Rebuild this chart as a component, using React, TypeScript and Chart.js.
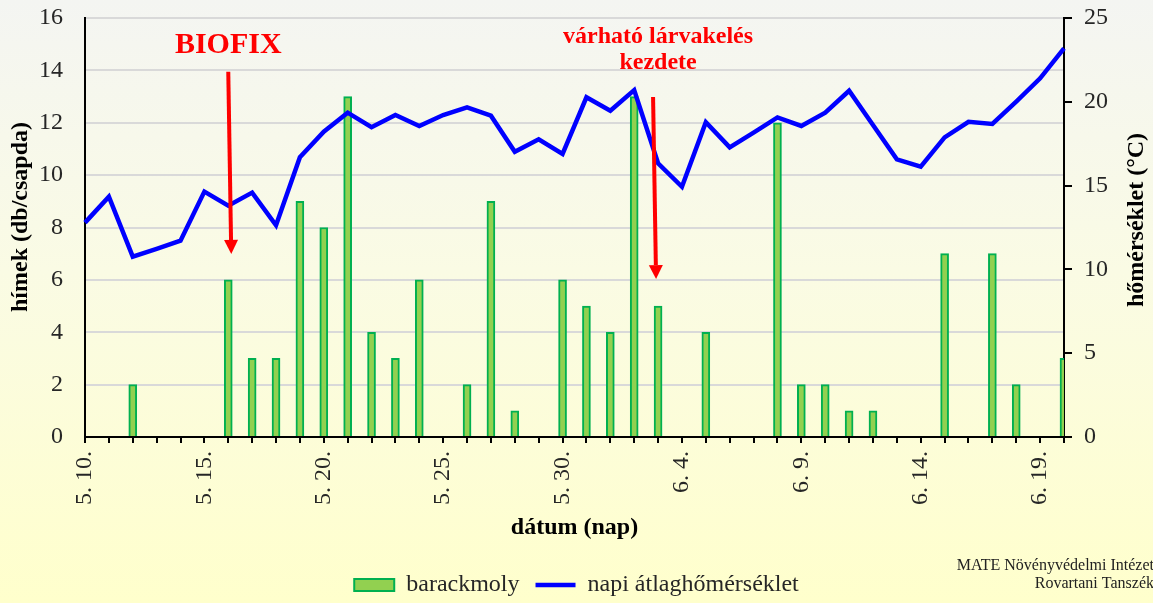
import React, { useEffect, useRef } from 'react';
import { Chart, registerables } from 'chart.js';

Chart.register(...registerables);

const dates = [
  '5. 10.', '5. 11.', '5. 12.', '5. 13.', '5. 14.', '5. 15.', '5. 16.', '5. 17.', '5. 18.', '5. 19.',
  '5. 20.', '5. 21.', '5. 22.', '5. 23.', '5. 24.', '5. 25.', '5. 26.', '5. 27.', '5. 28.', '5. 29.',
  '5. 30.', '5. 31.', '6. 1.', '6. 2.', '6. 3.', '6. 4.', '6. 5.', '6. 6.', '6. 7.', '6. 8.',
  '6. 9.', '6. 10.', '6. 11.', '6. 12.', '6. 13.', '6. 14.', '6. 15.', '6. 16.', '6. 17.', '6. 18.',
  '6. 19.', '6. 20.',
];

const barackmoly = [
  0, 0, 2, 0, 0, 0, 6, 3, 3, 9,
  8, 13, 4, 3, 6, 0, 2, 9, 1, 0,
  6, 5, 4, 13, 5, 0, 4, 0, 0, 12,
  2, 2, 1, 1, 0, 0, 7, 0, 7, 2,
  0, 3,
];

const temperature = [
  12.79, 14.34, 10.76, 11.22, 11.71, 14.64, 13.8, 14.58, 12.63, 16.69,
  18.22, 19.35, 18.48, 19.21, 18.56, 19.21, 19.67, 19.17, 17.02, 17.76,
  16.89, 20.27, 19.47, 20.7, 16.33, 14.93, 18.78, 17.28, 18.16, 19.07,
  18.56, 19.35, 20.66, 18.62, 16.57, 16.13, 17.88, 18.81, 18.68, 20.01,
  21.4, 23.19,
];

const leftAxis = { min: 0, max: 16, step: 2 };
const rightAxis = { min: 0, max: 25, step: 5 };
const labelEvery = 5;

const SERIF = '"Liberation Serif", "Times New Roman", Times, serif';

export default function App() {
  const ref = useRef<HTMLCanvasElement | null>(null);

  useEffect(() => {
    if (!ref.current) return;

    const annotations = {
      id: 'annotations',
      afterDraw(chart: any) {
        const { ctx } = chart;
        const x = chart.scales.x;
        const y = chart.scales.y;

        const arrow = (x1: number, y1: number, x2: number, y2: number) => {
          const ang = Math.atan2(y2 - y1, x2 - x1);
          const head = 14;
          const half = 7;
          const bx = x2 - head * Math.cos(ang);
          const by = y2 - head * Math.sin(ang);
          ctx.save();
          ctx.strokeStyle = '#FF0000';
          ctx.fillStyle = '#FF0000';
          ctx.lineWidth = 4;
          ctx.beginPath();
          ctx.moveTo(x1, y1);
          ctx.lineTo(bx, by);
          ctx.stroke();
          ctx.beginPath();
          ctx.moveTo(x2, y2);
          ctx.lineTo(bx + half * Math.sin(ang), by - half * Math.cos(ang));
          ctx.lineTo(bx - half * Math.sin(ang), by + half * Math.cos(ang));
          ctx.closePath();
          ctx.fill();
          ctx.restore();
        };

        // BIOFIX
        const bx = x.getPixelForValue(6);
        arrow(bx, y.getPixelForValue(13.95), bx + 3, y.getPixelForValue(6.99));
        ctx.save();
        ctx.fillStyle = '#FF0000';
        ctx.textAlign = 'center';
        ctx.textBaseline = 'alphabetic';
        ctx.font = `bold 30px ${SERIF}`;
        ctx.fillText('BIOFIX', bx, 53);
        ctx.restore();

        // várható lárvakelés kezdete
        const lx = x.getPixelForValue(24);
        arrow(lx - 5, y.getPixelForValue(12.98), lx - 2, y.getPixelForValue(6.03));
        ctx.save();
        ctx.fillStyle = '#FF0000';
        ctx.textAlign = 'center';
        ctx.textBaseline = 'alphabetic';
        ctx.font = `bold 24px ${SERIF}`;
        ctx.fillText('várható lárvakelés', lx, 43);
        ctx.fillText('kezdete', lx, 69);
        ctx.restore();

        // Axis titles (reading bottom to top)
        ctx.save();
        ctx.fillStyle = '#000';
        ctx.font = `bold 24px ${SERIF}`;
        ctx.textAlign = 'center';
        ctx.textBaseline = 'alphabetic';
        ctx.translate(27, 217);
        ctx.rotate(-Math.PI / 2);
        ctx.fillText('hímek (db/csapda)', 0, 0);
        ctx.restore();

        ctx.save();
        ctx.fillStyle = '#000';
        ctx.font = `bold 24px ${SERIF}`;
        ctx.textAlign = 'center';
        ctx.textBaseline = 'alphabetic';
        ctx.translate(1143, 220);
        ctx.rotate(-Math.PI / 2);
        ctx.fillText('hőmérséklet (°C)', 0, 0);
        ctx.restore();

        // Footer
        ctx.save();
        ctx.fillStyle = '#222';
        ctx.font = `16px ${SERIF}`;
        ctx.textAlign = 'right';
        ctx.textBaseline = 'alphabetic';
        ctx.fillText('MATE Növényvédelmi Intézet', 1154, 570);
        ctx.fillText('Rovartani Tanszék', 1154, 588);
        ctx.restore();
      },
    };

    const noVPad = (s: any, w: number) => {
      s.width = w;
      s.paddingTop = 0;
      s.paddingBottom = 0;
    };

    const chart = new Chart(ref.current, {
      type: 'bar',
      data: {
        labels: dates,
        datasets: [
          {
            type: 'bar',
            label: 'barackmoly',
            data: barackmoly,
            yAxisID: 'y',
            backgroundColor: '#92D050',
            borderColor: '#00B050',
            borderWidth: 2,
            barThickness: 8,
            pointStyle: 'rect',
            order: 1,
          } as any,
          {
            type: 'line',
            label: 'napi átlaghőmérséklet',
            data: temperature,
            yAxisID: 'y1',
            borderColor: '#0000FF',
            backgroundColor: '#0000FF',
            borderWidth: 4.5,
            pointRadius: 0,
            pointHoverRadius: 0,
            pointStyle: 'line',
            tension: 0,
            fill: false,
            order: 0,
          } as any,
        ],
      },
      options: {
        animation: false,
        responsive: false,
        events: [],
        layout: { padding: { top: 18, left: 0, right: 0, bottom: -4 } },
        plugins: {
          legend: {
            position: 'bottom',
            labels: {
              usePointStyle: true,
              pointStyleWidth: 40,
              boxHeight: 12,
              padding: 16,
              color: '#262626',
              font: { family: SERIF, size: 24 },
              sort: (a: any, b: any) => a.datasetIndex - b.datasetIndex,
            },
          },
          tooltip: { enabled: false },
        },
        scales: {
          x: {
            type: 'category',
            offset: false,
            grid: {
              offset: false,
              drawOnChartArea: false,
              color: '#000',
              tickLength: 6,
              lineWidth: 2,
            },
            border: { color: '#000', width: 2 },
            ticks: {
              autoSkip: false,
              maxRotation: 90,
              minRotation: 90,
              padding: 8,
              color: '#262626',
              font: { family: SERIF, size: 24 },
              callback: (_v: any, i: number) => (i % labelEvery === 0 ? dates[i] : ''),
            },
            title: {
              display: true,
              text: 'dátum (nap)',
              color: '#000',
              font: { family: SERIF, size: 24, weight: 'bold' },
              padding: { top: 0, bottom: 15 },
            },
            afterFit: (s: any) => {
              s.height = 120;
            },
          },
          y: {
            position: 'left',
            min: leftAxis.min,
            max: leftAxis.max,
            ticks: {
              stepSize: leftAxis.step,
              padding: 22,
              color: '#262626',
              font: { family: SERIF, size: 24 },
            },
            grid: { color: '#D9D9D9', lineWidth: 2, drawTicks: false },
            border: { color: '#000', width: 2 },
            afterFit: (s: any) => noVPad(s, 85),
          },
          y1: {
            position: 'right',
            min: rightAxis.min,
            max: rightAxis.max,
            ticks: {
              stepSize: rightAxis.step,
              padding: 12,
              color: '#262626',
              font: { family: SERIF, size: 24 },
            },
            grid: { drawOnChartArea: false, color: '#000', tickLength: 8, lineWidth: 2 },
            border: { color: '#000', width: 2 },
            afterFit: (s: any) => noVPad(s, 89),
          },
        },
      } as any,
      plugins: [annotations],
    });

    return () => chart.destroy();
  }, []);

  return (
    <div
      style={{
        position: 'absolute',
        left: 0,
        top: 0,
        width: 1153,
        height: 603,
        background: 'linear-gradient(to bottom, #F4F5F2 0%, #FAFBE4 45%, #FFFFCC 100%)',
      }}
    >
      <canvas ref={ref} width={1153} height={603} style={{ display: 'block' }} />
    </div>
  );
}
